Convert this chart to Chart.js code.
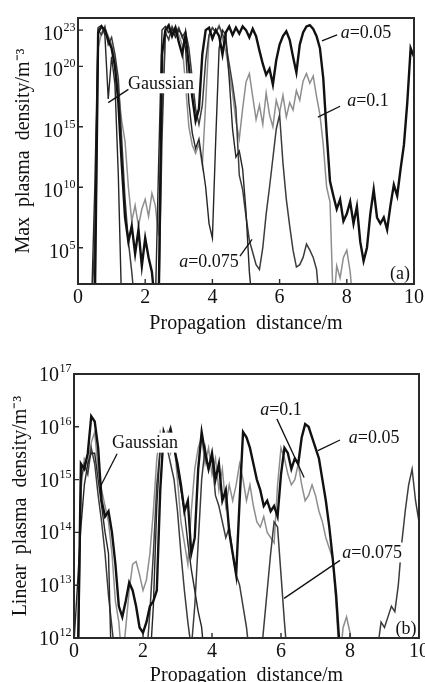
<!DOCTYPE html>
<html>
<head>
<meta charset="utf-8">
<script src="https://cdn.jsdelivr.net/npm/chart.js@4.4.0/dist/chart.umd.min.js"></script>
<style>
  html, body { margin: 0; padding: 0; background: #fff; }
  body { width: 425px; height: 682px; position: relative; overflow: hidden; }
  canvas { position: absolute; left: 0; }
  #chartA { top: 0; }
  #chartB { top: 340px; }
</style>
</head>
<body>
<canvas id="chartA" width="425" height="340"></canvas>
<canvas id="chartB" width="425" height="342"></canvas>
<script>
Chart.defaults.color = "#111";
Chart.defaults.font.family = "'Liberation Serif', 'Times New Roman', serif";
Chart.defaults.font.size = 20;

// readings every 0.1 m from 0 to 10 m, values are log10 of the density
// (0 means the curve is below the bottom of the axis)
const xStep = 0.1;
const xTicks = [0, 2, 4, 6, 8, 10];

// panel (a): max plasma density, m^-3
const yTickExpA = [5, 10, 15, 20, 23];
const gaussA = [
  0, 0, 0, 0, 0, 10, 23.2, 23.4, 22.6, 17.3,
  20.8, 18.5, 11, 0, 0, 0, 0, 0, 0, 0,
  0, 0, 0, 0, 12, 23, 23.3, 22.8, 23.1, 22.4,
  23, 22.6, 21.5, 17, 14.5, 13.2, 14, 12, 10, 7,
  5.8, 14, 21.5, 23, 22.6, 19, 14.8, 12.5, 13, 11.5,
  8, 3, 0, 0, 0, 0, 0, 0, 0, 0,
  0, 0, 0, 0, 0, 0, 0, 0, 0, 0,
  0, 0, 0, 0, 0, 0, 0, 0, 0, 0,
  0, 0, 0, 0, 0, 0, 0, 0, 0, 0,
  0, 0, 0, 0, 0, 0, 0, 0, 0, 0,
  0
];
const a005A = [
  0, 0, 0, 0, 0, 0, 22.8, 23.3, 23, 22.2,
  21.5, 20, 17, 12, 7.5, 5.5, 6.8, 4.5, 6.5, 3.5,
  5.8, 4.2, 3, 0, 0, 21, 23, 23.4, 22.5, 23.2,
  22, 21, 22.6, 20, 17.5, 15.5, 16.5, 21, 23, 23.2,
  22.3, 23, 22.5, 21, 22.8, 23.3, 22.6, 23.2, 22.7, 23.3,
  23, 22.4, 23.1, 22.5, 21.3, 20.2, 19.3, 19.8, 18.5, 20.5,
  21.8, 22.5, 22.9, 22.2, 20.8, 19.5, 21.8, 22.8, 23.3, 23.4,
  23.1, 22.5, 21.5, 19, 14.5, 10.5, 9.3, 8.2, 9, 7.2,
  7.8, 8.8, 7, 8.4, 5.5, 3.9, 5, 7.8, 9.8, 7.5,
  7, 7.5, 6.5, 8.5, 10.2, 9.3, 11.5, 13.5, 17, 21.5,
  20.8
];
const a0075A = [
  0, 0, 0, 0, 0, 5.5, 23, 22.6, 23.3, 21.8,
  22.4, 21, 19, 14, 9, 5.5, 3, 0, 0, 0,
  0, 0, 0, 0, 0, 14, 22.8, 22.2, 23.3, 22.7,
  23.2, 22.4, 22.9, 21.5, 19, 16.5, 15.2, 16.8, 20.5, 22.6,
  23.2, 22.8, 23.3, 22.7, 21.9, 20.2, 18.5, 16.5, 11, 9.8,
  7.6, 5.6, 4.6, 3.6, 3.2, 5, 7.8, 10, 12.4, 14.8,
  16, 12, 9, 6.8, 4.8, 3.4, 3.6, 4.2, 5.3, 4.8,
  4.2, 3.2, 0, 0, 0, 0, 0, 0, 0, 0,
  0, 0, 0, 0, 0, 0, 0, 0, 0, 0,
  0, 0, 0, 0, 0, 0, 0, 0, 0, 0,
  0
];
const a01A = [
  0, 0, 0, 0, 0, 0, 21.5, 22.8, 23.2, 22.5,
  21.8, 20.5, 18, 15.5, 13.8, 10, 7.2, 8.5, 6.8, 8.2,
  9, 7.6, 9.5, 8.5, 6, 16, 22.5, 23.2, 22.8, 23.3,
  22.6, 21.8, 18.5, 15, 13.5, 12.8, 13.6, 11.8, 17, 22.5,
  23.2, 22.8, 23.4, 22.3, 21.2, 19.5, 17.8, 15.5, 14, 16.5,
  18.7, 19.4, 17.5, 15.6, 16.8, 15.2, 17.8, 16, 15, 17.2,
  16.2, 17.6, 15.8, 17, 16.4, 18, 17.2, 18.8, 19.4, 18.6,
  19.2, 17.5, 16, 13.5, 10, 8.8, 0, 3.5, 2.5, 4.2,
  4.8, 3, 0, 0, 0, 0, 0, 0, 0, 0,
  0, 0, 0, 0, 0, 0, 0, 0, 0, 0,
  0
];

// panel (b): linear plasma density, m^-3
const yTickExpB = [12, 13, 14, 15, 16, 17];
const gaussB = [
  11.9, 13, 14.1, 14.9, 15.3, 15.5, 15.5, 15, 14.5, 14,
  13.6, 11, 10, 10, 10, 10, 10, 10, 10, 10,
  10, 10, 11.5, 12.6, 14.5, 15.6, 15.9, 15.8, 16, 15.7,
  15.2, 14.8, 14.4, 13.8, 13.3, 12.9, 12.5, 12.2, 11.5, 10,
  10, 10, 10, 10, 10, 10, 10, 10, 10, 10,
  10, 10, 10, 10, 10, 10, 10, 10, 10, 10,
  10, 10, 10, 10, 10, 10, 10, 10, 10, 10,
  10, 10, 10, 10, 10, 10, 10, 10, 10, 10,
  10, 10, 10, 10, 10, 10, 10, 10, 10, 10,
  10, 10, 10, 10, 10, 10, 10, 10, 10, 10,
  10
];
const a005B = [
  10, 11, 15.3, 15.2, 15.5, 16.2, 16.1, 15.6, 14.6, 14.3,
  14.4, 14, 13.4, 12.6, 12.4, 12.7, 13.05, 12.9, 12.6, 12.2,
  12.1, 12.3, 12.6, 12.7, 12.9, 14.8, 15.9, 15.7, 15.9, 15.6,
  15.3, 14.9, 14.4, 14.6, 13.6, 13.9, 15.2, 15.9, 15.5, 15.2,
  15.5, 15, 15.3, 14.6, 14.8, 14, 13.6, 13.2, 14.6, 15.9,
  15.8, 15.6, 15.3, 15, 14.8, 14.5, 14.6, 14.4, 14.5, 14.3,
  15.1, 15.6, 15.5, 15.2, 15.4, 15.3, 15.8, 16.05, 16, 15.8,
  15.6, 15.4, 15, 14.6, 14.1, 13.5, 12.8, 11.8, 11, 10,
  10, 10, 10, 10, 10, 10, 10, 10, 10, 10,
  10, 10, 10, 10, 10, 10, 10, 10, 10, 10,
  10
];
const a0075B = [
  9, 11, 15, 15.3, 15.1, 15.6, 15.3, 14.7, 14.2, 13.6,
  12.8, 12.2, 11.6, 11.2, 11, 11, 11, 11, 11, 11,
  11, 11.6, 12.5, 13.6, 14.9, 15.6, 15.9, 15.6, 15.3, 15,
  14.4, 13.6, 12.9, 12.3, 11.8, 12.6, 13.8, 15, 15.6, 15.2,
  15.4, 14.7, 14.5, 14.2, 13.9, 14.1, 13.6, 13.2, 13, 12.6,
  12.2, 11.6, 11, 11, 11.5, 12.2, 12.9, 13.6, 14.2, 14.1,
  13.2, 12.3, 11.5, 11, 11, 11, 11, 11, 11, 11,
  11, 11, 11, 11, 11, 11, 11, 11, 11, 11,
  11, 11, 11, 11, 11, 11, 11, 11, 11.8, 12.3,
  12.2, 12.4, 12.6, 12.5, 13, 13.8, 14.4, 14.9, 15.2, 14.6,
  14.2
];
const a01B = [
  10, 10.5, 14.8, 15.4, 15.3, 15.7, 15.9, 15.2, 14.8, 14.5,
  14.2, 13.6, 12.7, 12.3, 11.5, 12.2, 12.9, 13.4, 13.45, 13.2,
  12.9, 13.1, 13.6, 14.4, 15.4, 15.9, 15.7, 15.9, 15.5, 15.7,
  15, 14.2, 13.8, 13.4, 14.4, 15.2, 15.6, 15.8, 15.3, 15.6,
  15.1, 15.4, 14.8, 15.2, 14.5, 14.9, 14.6, 14.9, 15.3, 15,
  14.6, 14.9, 14.5, 14.2, 14.1, 14.3, 14, 13.9, 13.8, 14.9,
  15.6, 15.4, 15.1, 14.9, 15, 15.3, 14.9, 14.6, 14.7, 14.9,
  14.7, 14.4, 14.2, 13.9, 13.7, 13.5, 12.6, 11.5, 12.2, 12.4,
  12.1, 11.5, 11, 11, 11, 11, 11, 11, 11, 11,
  11, 11, 11, 11, 11, 11, 11, 11, 11, 11,
  11
];

const serif = "'Liberation Serif', 'Times New Roman', serif";

function toPoints(exps) {
  return exps.map((e, i) => ({ x: Math.round(i * xStep * 10) / 10, y: 10 ** e }));
}

function makeDatasets(g, a005, a0075, a01) {
  // first dataset is drawn on top
  return [
    { label: "a=0.05", data: toPoints(a005), borderColor: "#111", borderWidth: 2.4 },
    { label: "Gaussian", data: toPoints(g), borderColor: "#262626", borderWidth: 1.4 },
    { label: "a=0.075", data: toPoints(a0075), borderColor: "#3c3c3c", borderWidth: 1.5 },
    { label: "a=0.1", data: toPoints(a01), borderColor: "#8e8e8e", borderWidth: 1.5 },
  ];
}

// box round the plot, small ticks pointing inwards, and 10^n labels with a raised exponent
const framePlugin = {
  id: "frame",
  afterDraw(chart, args, opts) {
    const { ctx, chartArea: a, scales } = chart;
    ctx.save();
    ctx.strokeStyle = "#2a2a2a";
    ctx.lineWidth = 2;
    ctx.strokeRect(a.left, a.top, a.right - a.left, a.bottom - a.top);
    ctx.lineWidth = 1.4;
    ctx.beginPath();
    scales.x.ticks.forEach(t => {
      const px = scales.x.getPixelForValue(t.value);
      ctx.moveTo(px, a.bottom);
      ctx.lineTo(px, a.bottom - 5);
    });
    scales.y.ticks.forEach(t => {
      const py = scales.y.getPixelForValue(t.value);
      ctx.moveTo(a.left, py);
      ctx.lineTo(a.left + 5, py);
    });
    ctx.stroke();

    ctx.fillStyle = "#111";
    ctx.textBaseline = "alphabetic";
    ctx.textAlign = "left";
    scales.y.ticks.forEach(t => {
      const py = scales.y.getPixelForValue(t.value) + (opts.labelShift || 0);
      const exp = String(Math.round(Math.log10(t.value)));
      ctx.font = "20px " + serif;
      const wBase = ctx.measureText("10").width;
      ctx.font = "12px " + serif;
      const wExp = ctx.measureText(exp).width;
      const left = a.left - 3 - wBase - wExp;
      ctx.font = "20px " + serif;
      ctx.fillText("10", left, py + 7);
      ctx.font = "12px " + serif;
      ctx.fillText(exp, left + wBase + 0.5, py - 2);
    });
    ctx.restore();
  }
};

// curve names with their pointer lines, placed in data coordinates
const notesPlugin = {
  id: "notes",
  afterDatasetsDraw(chart, args, opts) {
    const { ctx, scales: { x, y } } = chart;
    const px = v => x.getPixelForValue(v);
    const py = e => y.getPixelForValue(10 ** e);
    ctx.save();
    (opts.items || []).forEach(n => {
      const parts = n.italicA ? [["a", "italic 18px " + serif], [n.text, "18px " + serif]]
                              : [[n.text, "18px " + serif]];
      let w = 0;
      parts.forEach(p => { ctx.font = p[1]; w += ctx.measureText(p[0]).width; });
      const cx = px(n.at[0]), cy = py(n.at[1]);
      ctx.fillStyle = "#fff";
      ctx.fillRect(cx - w / 2 - 1, cy - 10, w + 2, 20);
      if (n.from) {
        ctx.strokeStyle = "#111";
        ctx.lineWidth = 1.3;
        ctx.beginPath();
        ctx.moveTo(px(n.from[0]), py(n.from[1]));
        ctx.lineTo(px(n.to[0]), py(n.to[1]));
        ctx.stroke();
      }
      ctx.fillStyle = "#111";
      ctx.textBaseline = "middle";
      ctx.textAlign = "left";
      let left = cx - w / 2;
      parts.forEach(p => {
        ctx.font = p[1];
        ctx.fillText(p[0], left, cy + 1);
        left += ctx.measureText(p[0]).width;
      });
    });
    ctx.restore();
  }
};

function makeChart(id, cfg) {
  return new Chart(document.getElementById(id), {
    type: "line",
    data: { datasets: cfg.datasets },
    options: {
      responsive: false,
      animation: false,
      events: [],
      elements: { point: { radius: 0 }, line: { tension: 0, fill: false } },
      layout: { padding: cfg.padding },
      plugins: {
        legend: { display: false },
        tooltip: { enabled: false },
        notes: { items: cfg.notes },
        frame: { labelShift: cfg.labelShift }
      },
      scales: {
        x: {
          type: "linear", min: 0, max: 10,
          afterBuildTicks: s => { s.ticks = xTicks.map(v => ({ value: v })); },
          afterFit: s => { s.height = cfg.xHeight; s.paddingLeft = 0; s.paddingRight = 0; },
          grid: { display: false, drawTicks: false },
          border: { display: false },
          ticks: { padding: 2, maxRotation: 0, autoSkip: false, color: "#111" },
          title: { display: true, text: "Propagation  distance/m", color: "#111", padding: cfg.xTitlePad }
        },
        y: {
          type: "logarithmic", min: cfg.yMin, max: cfg.yMax,
          afterBuildTicks: s => { s.ticks = cfg.yTickExp.map(e => ({ value: 10 ** e })); },
          afterFit: s => { s.width = cfg.yWidth; s.paddingTop = 0; s.paddingBottom = 0; },
          grid: { display: false, drawTicks: false },
          border: { display: false },
          ticks: { display: false },
          title: { display: true, text: cfg.yTitle, color: "#111", padding: { top: cfg.yTitlePad, bottom: 0 } }
        }
      }
    },
    plugins: [framePlugin, notesPlugin]
  });
}

makeChart("chartA", {
  datasets: makeDatasets(gaussA, a005A, a0075A, a01A),
  padding: { top: 18, right: 11, left: 0, bottom: 0 },
  xHeight: 56, yWidth: 78, yTitlePad: 12, labelShift: 3,
  xTitlePad: { top: 0, bottom: 4 },
  yMin: 1e2, yMax: 1e24, yTickExp: yTickExpA,
  yTitle: "Max  plasma  density/m⁻³",
  notes: [
    { text: "Gaussian", at: [2.47, 18.6], from: [1.5, 18.1], to: [0.9, 17.0] },
    { text: "=0.05", italicA: true, at: [8.57, 22.8], from: [7.71, 22.6], to: [7.26, 22.1] },
    { text: "=0.1", italicA: true, at: [8.63, 17.2], from: [7.8, 16.7], to: [7.14, 15.8] },
    { text: "=0.075", italicA: true, at: [3.9, 3.84], from: [4.82, 4.3], to: [5.18, 5.7] },
    { text: "(a)", at: [9.58, 2.85] }
  ]
});

makeChart("chartB", {
  datasets: makeDatasets(gaussB, a005B, a0075B, a01B),
  padding: { top: 34, right: 6, left: 0, bottom: 0 },
  xHeight: 44, yWidth: 74, yTitlePad: 9, labelShift: 0,
  xTitlePad: { top: 0, bottom: -6 },
  yMin: 1e12, yMax: 1e17, yTickExp: yTickExpB,
  yTitle: "Linear  plasma  density/m⁻³",
  notes: [
    { text: "Gaussian", at: [2.06, 15.7], from: [1.25, 15.49], to: [0.75, 14.85] },
    { text: "=0.1", italicA: true, at: [6.0, 16.34], from: [5.88, 16.15], to: [6.67, 15.04] },
    { text: "=0.05", italicA: true, at: [8.7, 15.8], from: [7.71, 15.75], to: [7.07, 15.55] },
    { text: "=0.075", italicA: true, at: [8.64, 13.62], from: [7.71, 13.47], to: [6.09, 12.75] },
    { text: "(b)", at: [9.62, 12.19] }
  ]
});
</script>
</body>
</html>
